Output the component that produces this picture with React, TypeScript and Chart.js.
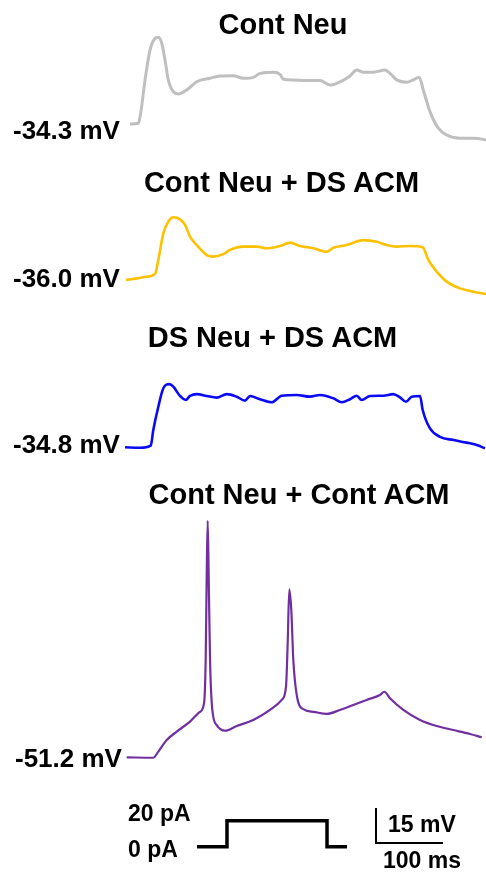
import React, { useEffect, useRef } from "react";
import { Chart, registerables } from "chart.js";

Chart.register(...registerables);

// ---- Data (time in ms, membrane potential in mV) ----
const contNeuT = [7.5, 19.9, 23.4, 29.9, 37.3, 44.8, 49.7, 54.8, 59.7, 64.6, 72.1, 79.6, 92.1, 107.0, 126.9, 141.8, 161.6, 176.6, 191.5, 201.5, 221.3, 231.3, 236.3, 251.2, 271.2, 291.0, 306.0, 320.9, 335.8, 345.8, 355.7, 370.6, 388.1, 395.5, 405.5, 420.4, 430.3, 439.2, 445.2, 455.2, 467.6, 480.1, 500.0, 519.8, 534.8, 538.8];
const contNeuV = [-34.3, -34.0, -29.6, -15.4, -2.6, 2.4, 2.9, 0.3, -6.9, -15.4, -20.5, -21.4, -19.7, -16.2, -14.7, -13.7, -13.6, -14.7, -14.3, -12.6, -12.1, -13.0, -15.1, -15.4, -15.7, -15.7, -17.6, -16.2, -13.7, -11.2, -12.1, -12.1, -11.2, -12.6, -15.4, -16.4, -15.4, -14.3, -19.7, -29.0, -36.1, -39.0, -40.4, -40.4, -40.9, -41.2];

const contDsT = [1.5, 17.5, 32.4, 44.8, 49.7, 57.2, 64.6, 72.1, 82.1, 89.6, 97.0, 107.0, 121.9, 131.8, 146.7, 156.7, 176.6, 196.6, 211.5, 231.3, 246.3, 261.2, 281.0, 301.0, 310.9, 330.9, 355.7, 375.7, 390.6, 405.5, 425.4, 444.3, 452.7, 465.2, 480.1, 500.0, 519.8, 538.8];
const contDsV = [-36.0, -35.3, -34.6, -33.4, -27.4, -16.0, -11.0, -9.1, -10.0, -12.4, -17.4, -21.0, -25.3, -26.0, -24.9, -23.1, -21.7, -21.7, -22.4, -21.4, -20.0, -21.4, -22.4, -23.9, -22.2, -21.0, -18.9, -19.6, -21.0, -21.7, -21.4, -22.0, -27.4, -32.4, -36.7, -39.6, -41.0, -42.0];

const dsDsT = [0, 22.4, 38.4, 42.2, 49.7, 57.2, 66.1, 72.1, 82.1, 90.6, 97.0, 107.0, 121.9, 136.8, 151.8, 166.7, 179.1, 186.6, 201.5, 219.0, 233.9, 256.3, 276.1, 291.0, 310.9, 323.4, 335.8, 345.8, 353.3, 365.7, 385.5, 400.4, 410.4, 419.4, 427.9, 440.3, 444.3, 455.2, 470.1, 490.0, 510.0, 524.9, 537.3];
const dsDsV = [-34.8, -35.0, -34.1, -27.4, -17.4, -9.5, -7.7, -8.8, -12.8, -14.5, -12.8, -12.0, -12.8, -13.5, -12.0, -13.1, -14.8, -12.8, -14.2, -15.5, -12.7, -12.4, -13.1, -12.4, -13.8, -15.5, -14.2, -12.7, -14.5, -12.8, -12.7, -12.0, -13.4, -15.3, -13.1, -12.8, -18.8, -26.7, -30.3, -31.7, -32.8, -33.8, -35.2];

const contContT = [2.5, 42.2, 49.7, 62.2, 77.2, 97.0, 111.9, 117.9, 120.4, 121.9, 123.4, 124.9, 126.9, 130.3, 136.9, 149.3, 166.7, 191.5, 216.4, 233.9, 240.3, 242.8, 245.2, 248.2, 251.2, 256.3, 266.1, 281.0, 301.0, 320.9, 340.7, 360.7, 380.6, 387.0, 395.5, 415.4, 440.3, 465.2, 490.0, 514.9, 532.4];
const contContV = [-51.2, -51.4, -48.8, -43.8, -40.2, -35.9, -31.7, -28.1, -9.5, 26.2, 50.2, 26.2, -9.5, -30.9, -37.4, -39.8, -37.8, -35.2, -30.9, -26.6, -20.9, -2.3, 20.8, 11.9, -9.5, -24.5, -30.6, -31.7, -32.6, -30.9, -28.8, -26.6, -24.5, -23.1, -25.9, -30.9, -35.2, -37.8, -39.5, -41.2, -42.6];

// stimulus (schematic) in pA
const stimT = [107.5, 152.2, 152.2, 301.5, 301.5, 331.3];
const stimI = [0, 0, 20, 20, 0, 0];

// scale bar: 15 mV / 100 ms
const barT = [374.6, 374.6, 474.6];
const barV = [15, 0, 0];

const titles = ["Cont Neu", "Cont Neu + DS ACM", "DS Neu + DS ACM", "Cont Neu + Cont ACM"];
const restLabels = ["-34.3 mV", "-36.0 mV", "-34.8 mV", "-51.2 mV"];
const stimLabels = ["20 pA", "0 pA"];
const barLabels = ["15 mV", "100 ms"];

// ---- layout ----
const W = 486;
const H = 872;
const PX_PER_MV = 2.333;
const X_MIN = -186.6;
const X_MAX = 538.8;

function axisFor(value: number, px: number, pxPerUnit: number) {
  const max = value + px / pxPerUnit;
  const min = max - H / pxPerUnit;
  return { display: false, min, max };
}

function zip(t: number[], v: number[]) {
  return t.map((x, i) => ({ x, y: v[i] }));
}

const FONT = "'Liberation Sans', Arial, sans-serif";

export default function App() {
  const ref = useRef<HTMLCanvasElement | null>(null);

  useEffect(() => {
    if (!ref.current) return;
    const ds = (data: any, color: string, width: number, axis: string, smooth: boolean) => ({
      data,
      borderColor: color,
      borderWidth: width,
      pointRadius: 0,
      tension: smooth ? 0.4 : 0,
      cubicInterpolationMode: smooth ? ("monotone" as const) : ("default" as const),
      fill: false,
      yAxisID: axis,
      borderJoinStyle: smooth ? ("round" as const) : ("miter" as const),
      borderCapStyle: "butt" as const,
    });
    const chart = new Chart(ref.current, {
      type: "line",
      data: {
        datasets: [
          ds(zip(contNeuT, contNeuV), "#bfbfbf", 3, "y1", true),
          ds(zip(contDsT, contDsV), "#ffc000", 2.6, "y2", true),
          ds(zip(dsDsT, dsDsV), "#0a0af5", 2.6, "y3", true),
          ds(zip(contContT, contContV), "#7030a0", 2.2, "y4", true),
          ds(zip(stimT, stimI), "#000000", 3.5, "yStim", false),
          ds(zip(barT, barV), "#000000", 2, "yBar", false),
        ],
      },
      options: {
        animation: false,
        responsive: false,
        maintainAspectRatio: false,
        layout: { padding: 0 },
        plugins: { legend: { display: false }, title: { display: false }, tooltip: { enabled: false } },
        events: [],
        scales: {
          x: { type: "linear", display: false, min: X_MIN, max: X_MAX },
          y1: axisFor(-34.3, 124, PX_PER_MV),
          y2: axisFor(-36.0, 280, PX_PER_MV),
          y3: axisFor(-34.8, 447.3, PX_PER_MV),
          y4: axisFor(-51.2, 757.3, PX_PER_MV),
          yStim: axisFor(0, 846.7, 1.3),
          yBar: axisFor(0, 843, PX_PER_MV),
        } as any,
      },
    });
    return () => chart.destroy();
  }, []);

  const textBase: React.CSSProperties = {
    position: "absolute",
    fontFamily: FONT,
    fontWeight: "bold",
    lineHeight: 1,
    whiteSpace: "nowrap",
    color: "#000",
  };

  const titlePos = [
    { x: 283, y: 24 },
    { x: 281.5, y: 181.5 },
    { x: 272.5, y: 336.5 },
    { x: 299, y: 493.5 },
  ];
  const labelPos = [
    { x: 13, y: 130 },
    { x: 13, y: 278 },
    { x: 13, y: 444 },
    { x: 15, y: 758 },
  ];

  return (
    <div style={{ position: "fixed", left: 0, top: 0, width: W, height: H, background: "#fff" }}>
      <canvas ref={ref} width={W} height={H} style={{ position: "absolute", left: 0, top: 0, width: W, height: H }} />
      {titles.map((t, i) => (
        <div key={t} style={{ ...textBase, fontSize: 29, left: titlePos[i].x, top: titlePos[i].y, transform: "translate(-50%, -50%)" }}>
          {t}
        </div>
      ))}
      {restLabels.map((t, i) => (
        <div key={t} style={{ ...textBase, fontSize: 26, left: labelPos[i].x, top: labelPos[i].y, transform: "translateY(-50%)" }}>
          {t}
        </div>
      ))}
      <div style={{ ...textBase, fontSize: 23, left: 128, top: 813, transform: "translateY(-50%)" }}>{stimLabels[0]}</div>
      <div style={{ ...textBase, fontSize: 23, left: 128, top: 849, transform: "translateY(-50%)" }}>{stimLabels[1]}</div>
      <div style={{ ...textBase, fontSize: 23, left: 388, top: 824, transform: "translateY(-50%)" }}>{barLabels[0]}</div>
      <div style={{ ...textBase, fontSize: 23, left: 383, top: 860, transform: "translateY(-50%)" }}>{barLabels[1]}</div>
    </div>
  );
}
